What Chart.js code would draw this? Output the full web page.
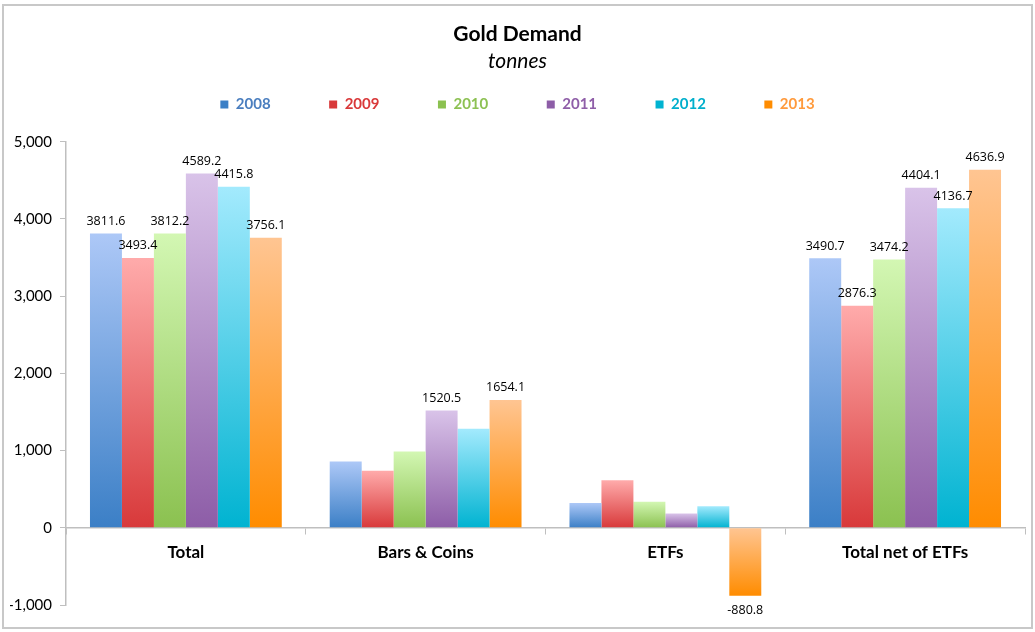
<!DOCTYPE html>
<html>
<head>
<meta charset="utf-8">
<script src="https://cdn.jsdelivr.net/npm/chart.js@4"></script>
<style>
	html, body { margin: 0; padding: 0; background: #fff; }
	#holder { position: absolute; left: 0; top: 0; width: 1035px; height: 632px; }
</style>
</head>
<body>
<div id="holder"><canvas id="chart"></canvas></div>
<script>
let categories = ["Total", "Bars & Coins", "ETFs", "Total net of ETFs"];
let years = ["2008", "2009", "2010", "2011", "2012", "2013"];

let values2008 = [3811.6, 857, 320.9, 3490.7];
let values2009 = [3493.4, 740, 617.1, 2876.3];
let values2010 = [3812.2, 987, 338.0, 3474.2];
let values2011 = [4589.2, 1520.5, 185.1, 4404.1];
let values2012 = [4415.8, 1282, 279.1, 4136.7];
let values2013 = [3756.1, 1654.1, -880.8, 4636.9];

// which bars carry a value label
let labelled2008 = [true, false, false, true];
let labelled2009 = [true, false, false, true];
let labelled2010 = [true, false, false, true];
let labelled2011 = [true, true, false, true];
let labelled2012 = [true, false, false, true];
let labelled2013 = [true, true, true, true];

let yTicks = [-1000, 0, 1000, 2000, 3000, 4000, 5000];

let allValues = [values2008, values2009, values2010, values2011, values2012, values2013];
let allLabelled = [labelled2008, labelled2009, labelled2010, labelled2011, labelled2012, labelled2013];

let topColors = ["#adc8f7", "#ffabab", "#d3f7b3", "#d9c3e9", "#a3eafd", "#ffc592"];
let bottomColors = ["#3b7fc6", "#d8393a", "#8bc150", "#8d5da7", "#00b3d1", "#ff8c00"];
let legendColors = ["#4a7ebf", "#d9393a", "#8dc153", "#8f5ea8", "#00afcc", "#ff9a3c"];


function barGradient(context, i) {

	let chart = context.chart;
	if (!chart.chartArea || context.type !== "data") return bottomColors[i];

	let yScale = chart.scales.y;
	let v = context.parsed.y;
	let yTop = yScale.getPixelForValue(Math.max(v, 0));
	let yBottom = yScale.getPixelForValue(Math.min(v, 0));
	if (yBottom - yTop < 1) yBottom = yTop + 1;

	let g = chart.ctx.createLinearGradient(0, yTop, 0, yBottom);
	g.addColorStop(0, topColors[i]);
	g.addColorStop(1, bottomColors[i]);
	return g;

}


let frame = {
	id: "frame",
	beforeDraw(chart) {
		let c = chart.ctx;
		c.save();
		c.fillStyle = "#fff";
		c.fillRect(0, 0, chart.width, chart.height);
		c.strokeStyle = "#c8c8c8";
		c.lineWidth = 2;
		c.strokeRect(3, 5, chart.width - 6, chart.height - 9);
		c.restore();
	}
};

// leave some room between the legend row and the plot
let legendGap = {
	id: "legendGap",
	beforeLayout(chart) {
		let legend = chart.legend;
		if (!legend || legend.fitWrapped) return;
		let originalFit = legend.fit;
		legend.fit = function () {
			originalFit.call(this);
			this.height += 10;
		};
		legend.fitWrapped = true;
	}
};

let valueLabels = {
	id: "valueLabels",
	afterDatasetsDraw(chart) {
		let c = chart.ctx;
		c.save();
		c.font = "12.5px 'Open Sans'";
		c.fillStyle = "#000";
		c.textAlign = "center";
		chart.data.datasets.forEach(function (ds, i) {
			let meta = chart.getDatasetMeta(i);
			meta.data.forEach(function (bar, j) {
				if (!allLabelled[i][j]) return;
				let v = ds.data[j];
				if (v >= 0) {
					c.textBaseline = "bottom";
					c.fillText(v.toFixed(1), bar.x, bar.y - 6);
				} else {
					c.textBaseline = "top";
					c.fillText(v.toFixed(1), bar.x, bar.y + 8);
				}
			});
		});
		c.restore();
	}
};


let datasets = years.map(function (year, i) {
	return {
		label: year,
		data: allValues[i],
		backgroundColor: function (context) { return barGradient(context, i); },
		borderWidth: 0,
		barPercentage: 1,
		categoryPercentage: 0.8
	};
});

new Chart(document.getElementById("chart"), {
	type: "bar",
	data: {
		labels: categories,
		datasets: datasets
	},
	plugins: [frame, legendGap, valueLabels],
	options: {
		responsive: true,
		maintainAspectRatio: false,
		animation: false,
		layout: {
			padding: { left: 10, right: 10, top: 0, bottom: 27 }
		},
		plugins: {
			title: {
				display: true,
				text: "Gold Demand",
				color: "#000",
				font: { family: "Lato", size: 21, weight: "bold" },
				padding: { top: 22, bottom: 1 }
			},
			subtitle: {
				display: true,
				text: "tonnes",
				color: "#000",
				font: { family: "Lato", size: 21, style: "italic" },
				padding: { top: 0, bottom: -35 }
			},
			legend: {
				display: true,
				position: "top",
				labels: {
					boxWidth: 8,
					boxHeight: 8,
					padding: 58.5,
					font: { family: "Lato", size: 15, weight: "bold" },
					generateLabels: function (chart) {
						return years.map(function (year, i) {
							return {
								text: year,
								fillStyle: bottomColors[i],
								strokeStyle: bottomColors[i],
								lineWidth: 0,
								fontColor: legendColors[i],
								datasetIndex: i
							};
						});
					}
				}
			},
			tooltip: { enabled: false }
		},
		scales: {
			x: {
				position: { y: 0 },
				grid: {
					display: true,
					drawOnChartArea: false,
					drawTicks: true,
					tickLength: 6,
					color: "#bfbfbf"
				},
				border: { display: true, color: "#bfbfbf", width: 1.5 },
				ticks: {
					color: "#000",
					padding: 9,
					font: { family: "Lato", size: 17, weight: "bold" }
				}
			},
			y: {
				min: -1000,
				max: 5000,
				afterBuildTicks: function (scale) {
					scale.ticks = yTicks.map(function (v) { return { value: v }; });
				},
				afterFit: function (scale) {
					scale.width = 56;
				},
				grid: {
					display: true,
					drawOnChartArea: false,
					drawTicks: true,
					tickLength: 6,
					color: "#bfbfbf"
				},
				border: { display: true, color: "#bfbfbf", width: 1.5 },
				ticks: {
					color: "#000",
					padding: 8,
					font: { family: "Lato", size: 15 },
					callback: function (v) { return v.toLocaleString("en-US"); }
				}
			}
		}
	}
});
</script>
</body>
</html>
